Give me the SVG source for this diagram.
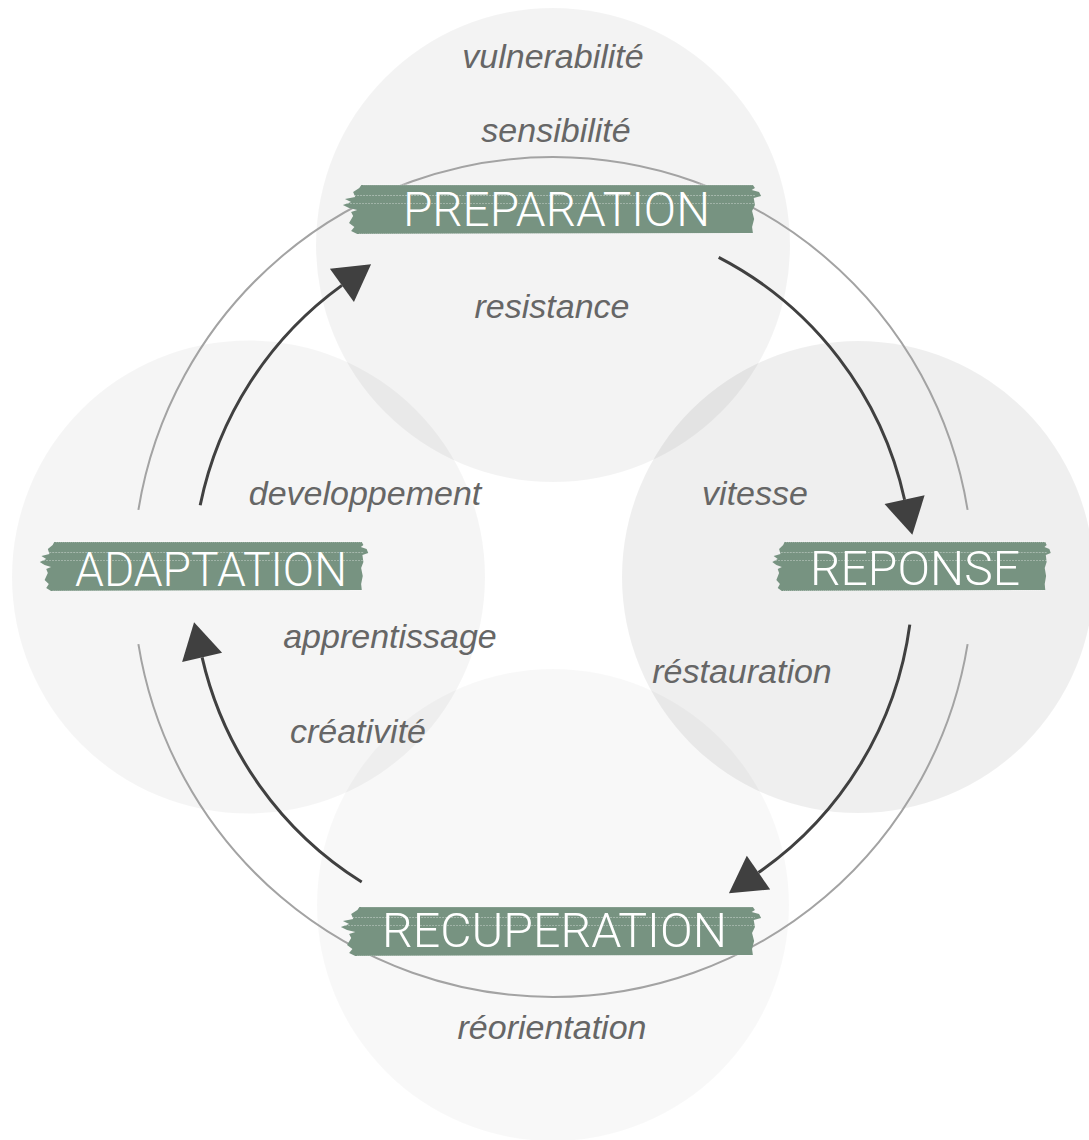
<svg xmlns="http://www.w3.org/2000/svg" width="1089" height="1140" viewBox="0 0 1089 1140">
  <defs>
    <style>
      .bg { fill: #000; }
      .ring { fill: none; stroke: #a3a3a3; stroke-width: 2; }
      .arrow { fill: none; stroke: #404040; stroke-width: 3; marker-end: url(#head); }
      .band { fill: #779381; }
      .tex { fill: none; stroke: #ffffff; vector-effect: non-scaling-stroke; }
      .label { font-family: Roboto, "Liberation Sans", Arial, sans-serif; font-weight: 300; font-size: 48px; fill: #ffffff; }
      .word { font-family: "Liberation Sans", Arial, sans-serif; font-style: italic; font-size: 34px; fill: #666666; text-anchor: middle; }
    </style>
    <marker id="head" markerUnits="userSpaceOnUse" markerWidth="40" markerHeight="44" refX="0" refY="20.5" orient="auto" overflow="visible">
      <path d="M0,0 L36,20.5 L0,41 Z" fill="#404040"/>
    </marker>
    <path id="brush" d="M3.5,2 L99,2 L99.5,5 L98.7,7 L100.5,9 L101,13 L99.2,15 L99.5,22 L98.8,28 L99.3,36 L98.8,44 L99,50 L2.5,51 L1,48 L1.8,44 L0.5,40 L1.5,33 L1,29 L2.5,27 L0.5,25 L-1,22 L1,19 L-0.5,16 L2,14 L1.5,9 L3,5 Z"/>
    <g id="bandshape">
      <use href="#brush" class="band"/>
      <path class="tex" d="M4,1.5 L99,1.5" stroke-width="2" stroke-dasharray="1 1" opacity="0.45"/>
      <path class="tex" d="M1,12.5 L99.5,12.5" stroke-width="1" stroke-dasharray="2 1" opacity="0.35"/>
      <path class="tex" d="M0,20.5 L100,20.5" stroke-width="1" stroke-dasharray="2 1" opacity="0.3"/>
      <path class="tex" d="M3,50.5 L99,50.5" stroke-width="1" stroke-dasharray="1 1" opacity="0.35"/>
    </g>
  </defs>

  <rect x="0" y="0" width="1089" height="1140" fill="#ffffff"/>

  <g id="backdrop">
    <circle class="bg" cx="553" cy="245" r="237" opacity="0.047"/>
    <circle class="bg" cx="248.5" cy="577" r="236.5" opacity="0.04"/>
    <circle class="bg" cx="858" cy="577" r="236" opacity="0.063"/>
    <circle class="bg" cx="553" cy="905" r="236" opacity="0.028"/>
  </g>

  <g id="connectors">
    <path class="ring" d="M138.4,509.9 A420,420 0 0 1 967.6,509.9"/>
    <path class="ring" d="M967.6,644.1 A420,420 0 0 1 138.4,644.1"/>
    <path class="arrow" d="M200.2,505.2 A360,360 0 0 1 341.9,285.4"/>
    <path class="arrow" d="M718.7,257.4 A360,360 0 0 1 904.6,499.7"/>
    <path class="arrow" d="M909.8,624.6 A360,360 0 0 1 758.5,872.6"/>
    <path class="arrow" d="M361.7,882.0 A360,360 0 0 1 202.1,657.4"/>
  </g>

  <g id="preparation">
    <use href="#bandshape" transform="translate(347,183) scale(4.1,1)"/>
    <text class="label" x="403" y="226" textLength="307" lengthAdjust="spacingAndGlyphs">PREPARATION</text>
  </g>
  <g id="reponse">
    <use href="#bandshape" transform="translate(775,540) scale(2.73,1)"/>
    <text class="label" x="810" y="585" textLength="210" lengthAdjust="spacingAndGlyphs">REPONSE</text>
  </g>
  <g id="recuperation">
    <use href="#bandshape" transform="translate(345,905) scale(4.12,1)"/>
    <text class="label" x="382" y="947" textLength="345" lengthAdjust="spacingAndGlyphs">RECUPERATION</text>
  </g>
  <g id="adaptation">
    <use href="#bandshape" transform="translate(43,540) scale(3.22,1)"/>
    <text class="label" x="75" y="586" textLength="272" lengthAdjust="spacingAndGlyphs">ADAPTATION</text>
  </g>

  <g id="words">
    <text class="word" x="553" y="68">vulnerabilité</text>
    <text class="word" x="556" y="142">sensibilité</text>
    <text class="word" x="552" y="318">resistance</text>
    <text class="word" x="365" y="505">developpement</text>
    <text class="word" x="755" y="505">vitesse</text>
    <text class="word" x="390" y="648">apprentissage</text>
    <text class="word" x="742" y="683">réstauration</text>
    <text class="word" x="358" y="743">créativité</text>
    <text class="word" x="552" y="1039">réorientation</text>
  </g>
</svg>
